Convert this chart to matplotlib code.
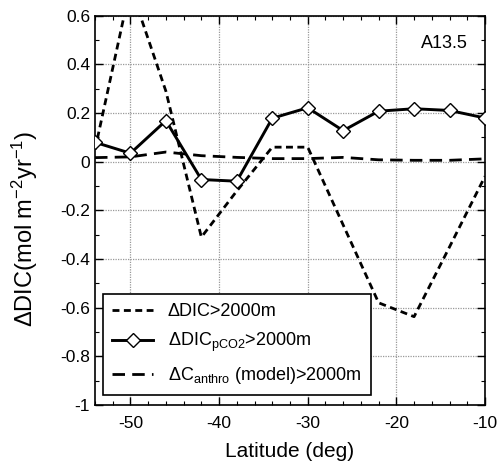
import matplotlib
matplotlib.use("Agg")
import matplotlib.pyplot as plt
from matplotlib.ticker import MultipleLocator

plt.rcParams['font.family'] = ['Liberation Sans', 'DejaVu Sans']
plt.rcParams['mathtext.fontset'] = 'custom'
plt.rcParams['mathtext.rm'] = 'Liberation Sans'
plt.rcParams['mathtext.it'] = 'Liberation Sans:italic'
plt.rcParams['mathtext.bf'] = 'Liberation Sans:bold'

# Data
lat_dic = [-54, -50, -46, -42, -38, -34, -30, -26, -22, -18, -14, -10]
dic = [0.05, 0.72, 0.29, -0.31, -0.12, 0.06, 0.06, -0.26, -0.58, -0.637, -0.35, -0.06]

lat_pco2 = [-54, -50, -46, -42, -38, -34, -30, -26, -22, -18, -14, -10]
dic_pco2 = [0.080, 0.035, 0.169, -0.073, -0.080, 0.179, 0.222, 0.128, 0.208, 0.218, 0.211, 0.180]

lat_anth = [-54, -50, -46, -42, -38, -34, -30, -26, -22, -18, -14, -10]
c_anthro = [0.017, 0.02, 0.04, 0.025, 0.018, 0.013, 0.013, 0.018, 0.008, 0.006, 0.006, 0.012]

xticks = [-50, -40, -30, -20, -10]
yticks = [-1, -0.8, -0.6, -0.4, -0.2, 0, 0.2, 0.4, 0.6]
ytick_labels = ['-1', '-0.8', '-0.6', '-0.4', '-0.2', '0', '0.2', '0.4', '0.6']

fig = plt.figure(figsize=(5.0, 4.66), dpi=100)
ax = fig.add_axes([0.19, 0.131, 0.78, 0.835])

ax.plot(lat_dic, dic, color='black', lw=2.0, linestyle=(0, (2.5, 1.6)),
        label='ΔDIC>2000m', zorder=3)
ax.plot(lat_pco2, dic_pco2, color='black', lw=2.1, marker='D', markersize=7.2,
        markerfacecolor='white', markeredgecolor='black', markeredgewidth=1.0,
        label='ΔDIC$_{\\mathrm{pCO2}}$>2000m', zorder=4)
ax.plot(lat_anth, c_anthro, color='black', lw=2.0, linestyle=(0, (4.5, 2.6)),
        label='ΔC$_{\\mathrm{anthro}}$ (model)>2000m', zorder=3)

ax.set_xlim(-54, -10)
ax.set_ylim(-1, 0.6)
ax.set_xticks(xticks)
ax.set_xticklabels([str(x) for x in xticks])
ax.set_yticks(yticks)
ax.set_yticklabels(ytick_labels)
ax.xaxis.set_minor_locator(MultipleLocator(2))
ax.yaxis.set_minor_locator(MultipleLocator(0.1))
ax.tick_params(which='both', direction='in', top=True, right=True, labelsize=12.5)
ax.tick_params(which='major', length=6, width=1)
ax.tick_params(which='minor', length=3, width=0.8)
ax.tick_params(axis='x', pad=8)
ax.grid(True, which='major', color='#999999', linestyle=(0, (1, 1)), lw=0.9)
for s in ax.spines.values():
    s.set_linewidth(1.2)

ax.set_xlabel('Latitude (deg)', fontsize=15, labelpad=8)
ax.set_ylabel('ΔDIC(mol m$^{-2}$yr$^{-1}$)', fontsize=17)
ax.yaxis.set_label_coords(-0.14, 0.452)

ax.text(0.955, 0.93, 'A13.5', transform=ax.transAxes, ha='right', va='center', fontsize=13)

leg = ax.legend(loc='lower left', bbox_to_anchor=(0.02, 0.025), fontsize=13,
                handlelength=2.3, handletextpad=0.8, labelspacing=0.6,
                fancybox=False, framealpha=1, edgecolor='black', borderpad=0.5,
                borderaxespad=0)
leg.get_frame().set_linewidth(1.2)

fig.savefig('out.png', dpi=100)
